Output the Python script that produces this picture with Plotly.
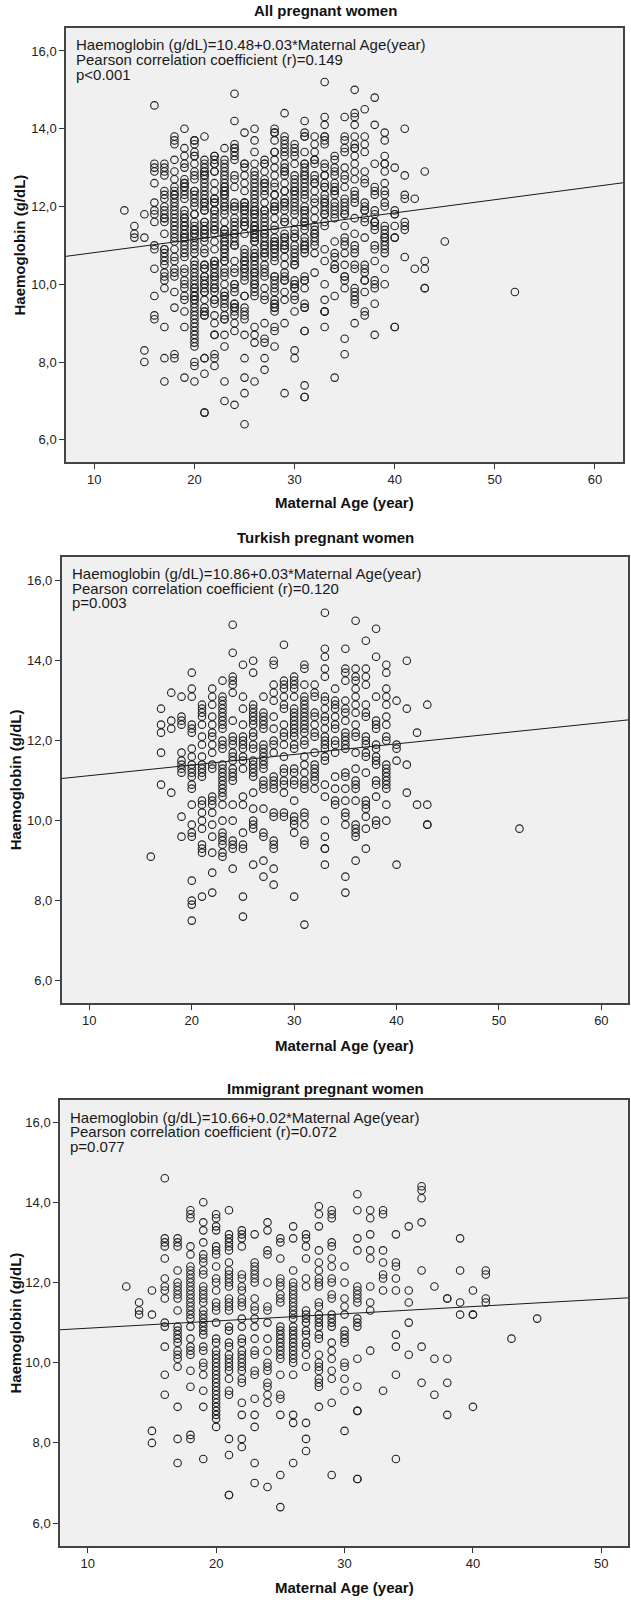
import plotly.graph_objects as go

W, H = 631, 1602

# Haemoglobin values (g/dL) read per maternal age column
turkish_hb = {
    16: [9.1],
    17: [12.8, 12.4, 12.2, 11.7, 10.9],
    18: [13.2, 12.5, 12.3, 10.7],
    19: [13.1, 12.6, 12.5, 12.4, 11.7, 11.5, 11.4, 11.3, 11.2, 10.1, 9.6],
    20: [13.7, 13.3, 13.1, 12.4, 12.3, 12.2, 11.8, 11.6, 11.4, 11.3, 11.2, 11.1, 10.9, 10.8,
         10.4, 9.9, 9.7, 9.6, 8.5, 8.0, 7.9, 7.5],
    21: [12.9, 12.8, 12.7, 12.6, 12.4, 12.1, 11.9, 11.6, 11.4, 11.3, 11.2, 11.1, 10.5, 10.4,
         10.2, 10.0, 9.8, 9.4, 9.3, 9.2, 8.1],
    22: [13.3, 13.1, 12.9, 12.6, 12.4, 12.2, 12.1, 11.9, 11.7, 11.4, 11.3, 10.6, 10.5, 10.4,
         10.2, 9.9, 9.6, 9.2, 8.7, 8.2],
    23: [13.5, 13.1, 13.0, 12.9, 12.8, 12.7, 12.6, 12.5, 12.4, 12.3, 12.0, 11.9, 11.8, 11.4,
         11.3, 11.2, 11.1, 11.0, 10.9, 10.8, 10.7, 10.6, 10.4, 10.0, 9.7, 9.6, 9.5, 9.4, 9.2, 9.1],
    24: [14.9, 14.2, 13.6, 13.5, 13.4, 13.2, 12.5, 12.1, 12.0, 11.9, 11.7, 11.6, 11.5, 11.3,
         11.2, 11.1, 11.0, 10.4, 10.0, 9.5, 9.4, 9.3, 8.8],
    25: [13.9, 13.1, 12.8, 12.4, 12.1, 12.0, 11.9, 11.8, 11.6, 11.5, 11.3, 10.6, 10.4, 9.7,
         9.4, 9.3, 8.1, 7.6],
    26: [14.0, 13.7, 12.9, 12.8, 12.7, 12.6, 12.5, 12.4, 12.2, 12.1, 11.9, 11.8, 11.5, 11.4,
         11.3, 11.2, 11.1, 10.7, 10.3, 10.0, 9.9, 9.8, 8.9],
    27: [13.1, 12.7, 12.6, 12.5, 12.4, 12.3, 11.9, 11.8, 11.7, 11.6, 11.5, 11.4, 11.3, 11.0,
         10.9, 10.8, 10.3, 9.7, 9.6, 9.0, 8.6],
    28: [14.0, 13.9, 13.4, 13.2, 13.0, 12.6, 12.3, 12.0, 11.9, 11.7, 11.1, 11.0, 10.9, 10.8,
         10.2, 10.1, 9.5, 9.4, 9.3, 8.8, 8.4],
    29: [14.4, 13.5, 13.4, 13.3, 13.1, 12.9, 12.8, 12.4, 12.2, 12.1, 11.9, 11.6, 11.3, 11.2,
         11.0, 10.9, 10.7, 10.2, 10.1],
    30: [13.6, 13.5, 13.4, 13.3, 13.1, 12.8, 12.7, 12.6, 12.5, 12.4, 12.3, 12.2, 12.1, 11.9,
         11.8, 11.3, 11.2, 11.0, 10.9, 10.5, 10.1, 10.0, 9.9, 9.7, 8.1],
    31: [13.9, 13.8, 13.4, 13.1, 13.0, 12.9, 12.8, 12.7, 12.6, 12.5, 12.4, 12.3, 12.2, 12.0,
         11.9, 11.6, 11.4, 11.2, 11.0, 10.9, 10.8, 10.2, 10.1, 9.9, 9.5, 9.4, 7.4],
    32: [13.4, 13.2, 13.1, 12.7, 12.6, 12.4, 12.2, 12.1, 11.7, 11.4, 11.3, 11.2, 11.1, 11.0, 10.8],
    33: [15.2, 14.3, 14.1, 13.8, 13.6, 13.1, 13.0, 12.8, 12.6, 12.5, 12.3, 12.1, 12.0, 11.9,
         11.8, 11.6, 11.5, 10.9, 10.6, 10.0, 9.6, 9.3, 9.3, 8.9],
    34: [13.3, 13.0, 12.9, 12.8, 12.6, 12.4, 12.3, 12.0, 11.9, 11.7, 11.1, 10.8, 10.5, 10.4],
    35: [14.3, 13.8, 13.7, 13.5, 13.0, 12.8, 12.7, 12.5, 12.2, 12.1, 12.0, 11.9, 11.8, 11.2,
         11.1, 10.8, 10.5, 10.2, 10.1, 9.9, 8.6, 8.2],
    36: [15.0, 13.8, 13.6, 13.5, 13.3, 13.1, 12.9, 12.7, 12.4, 12.2, 12.1, 11.7, 11.3, 11.0,
         10.9, 10.8, 10.5, 9.9, 9.8, 9.7, 9.6, 9.0],
    37: [14.5, 13.8, 13.6, 13.4, 12.9, 12.7, 12.6, 12.1, 12.0, 11.9, 11.7, 11.6, 11.2, 10.5,
         10.4, 10.3, 10.1, 9.8, 9.3],
    38: [14.8, 14.1, 13.1, 12.5, 12.4, 12.3, 11.9, 11.8, 11.6, 11.5, 11.4, 11.0, 10.9, 10.6,
         10.0, 9.9],
    39: [13.9, 13.7, 13.3, 13.1, 12.9, 12.6, 12.4, 12.1, 12.0, 11.4, 11.3, 11.2, 11.1, 11.0,
         10.9, 10.8, 10.4, 10.0],
    40: [13.0, 11.9, 11.8, 11.5, 8.9],
    41: [14.0, 12.8, 11.4, 10.7],
    42: [12.2, 10.4],
    43: [12.9, 10.4, 9.9, 9.9],
    52: [9.8],
}

immigrant_hb = {
    13: [11.9],
    14: [11.5, 11.3, 11.2],
    15: [11.8, 11.2, 8.3, 8.0],
    16: [14.6, 13.1, 13.0, 12.9, 12.6, 12.1, 11.9, 11.8, 11.6, 11.0, 10.9, 10.4, 9.7, 9.2],
    17: [13.1, 13.0, 12.9, 12.3, 12.0, 11.9, 11.8, 11.7, 11.6, 11.3, 10.9, 10.8, 10.7, 10.6,
         10.5, 10.3, 10.2, 10.1, 9.9, 8.9, 8.1, 7.5],
    18: [13.8, 13.7, 13.6, 12.9, 12.7, 12.4, 12.3, 12.2, 12.1, 12.0, 11.9, 11.8, 11.7, 11.6,
         11.5, 11.4, 11.3, 11.2, 11.1, 10.9, 10.6, 10.4, 10.3, 10.2, 9.8, 9.4, 8.2, 8.1],
    19: [14.0, 13.5, 13.3, 13.0, 12.7, 12.6, 12.5, 12.3, 12.2, 11.9, 11.8, 11.7, 11.6, 11.5,
         11.3, 11.2, 11.1, 11.0, 10.9, 10.8, 10.7, 10.4, 10.3, 10.0, 9.9, 9.7, 9.3, 8.9, 7.6],
    20: [13.7, 13.6, 13.4, 13.3, 12.9, 12.8, 12.7, 12.4, 12.1, 12.0, 11.8, 11.5, 11.4, 11.3,
         11.0, 10.6, 10.5, 10.3, 10.2, 10.1, 10.0, 9.9, 9.8, 9.7, 9.6, 9.5, 9.4, 9.3, 9.2,
         9.1, 9.0, 8.9, 8.8, 8.7, 8.6, 8.4],
    21: [13.8, 13.2, 13.1, 13.0, 12.9, 12.8, 12.5, 12.3, 12.2, 12.1, 12.0, 11.9, 11.6, 11.5,
         11.4, 11.3, 10.9, 10.8, 10.5, 10.4, 10.2, 10.1, 10.0, 9.9, 9.8, 9.6, 9.3, 9.2, 8.1,
         7.7, 6.7, 6.7],
    22: [13.3, 13.2, 13.1, 12.9, 12.2, 12.1, 11.9, 11.8, 11.6, 11.5, 11.4, 11.1, 10.9, 10.6,
         10.5, 10.3, 10.2, 10.1, 10.0, 9.9, 9.8, 9.6, 9.5, 9.0, 8.7, 8.1, 7.9],
    23: [13.2, 12.5, 12.4, 12.3, 12.2, 12.1, 12.0, 11.6, 11.4, 11.3, 11.1, 10.9, 10.6, 10.3,
         10.2, 9.8, 9.7, 9.1, 8.7, 8.4, 7.5, 7.0],
    24: [13.5, 13.3, 12.8, 12.7, 12.0, 11.4, 11.3, 11.0, 10.6, 10.3, 10.0, 9.9, 9.8, 9.5,
         9.4, 9.2, 9.0, 6.9],
    25: [13.1, 13.0, 12.6, 12.1, 12.0, 11.9, 11.7, 11.6, 11.5, 10.9, 10.8, 10.7, 10.6, 10.5,
         10.4, 10.3, 10.2, 10.1, 9.7, 9.2, 9.1, 8.7, 7.2, 6.4],
    26: [13.4, 13.1, 12.3, 12.0, 11.9, 11.8, 11.7, 11.6, 11.5, 11.4, 11.3, 11.2, 11.1, 10.9,
         10.8, 10.7, 10.6, 10.5, 10.4, 10.3, 10.2, 10.1, 10.0, 9.7, 8.7, 8.5, 7.5],
    27: [13.2, 13.1, 12.9, 12.6, 12.1, 11.9, 11.3, 11.2, 11.1, 11.0, 10.8, 10.7, 10.5, 10.4,
         10.2, 9.9, 8.5, 8.1, 7.8],
    28: [13.9, 13.7, 13.4, 12.8, 12.5, 12.3, 12.1, 12.0, 11.9, 11.5, 11.4, 11.2, 11.1, 11.0,
         10.9, 10.7, 10.6, 10.2, 10.0, 9.9, 9.8, 9.6, 9.5, 9.4, 8.9],
    29: [13.8, 13.7, 13.6, 13.0, 12.9, 12.6, 12.4, 12.1, 12.0, 11.7, 11.6, 11.2, 11.1, 11.0,
         10.9, 10.5, 10.3, 10.1, 9.8, 9.6, 9.0, 7.2],
    30: [12.4, 12.0, 11.6, 11.4, 11.2, 10.8, 10.7, 10.6, 10.5, 10.0, 9.9, 9.6, 9.3, 8.3],
    31: [14.2, 13.8, 13.1, 12.8, 11.9, 11.8, 11.7, 11.6, 11.5, 11.1, 11.0, 10.9, 10.1, 9.4,
         8.8, 8.8, 7.1, 7.1],
    32: [13.8, 13.6, 13.2, 12.8, 12.6, 11.9, 11.5, 11.3, 10.3],
    33: [13.8, 13.7, 12.8, 12.5, 12.2, 12.1, 11.8, 9.3],
    34: [13.2, 12.5, 12.4, 12.1, 11.8, 10.7, 10.4, 9.7, 7.6],
    35: [13.4, 11.8, 11.5, 11.0, 10.2],
    36: [14.4, 14.3, 14.1, 13.5, 12.3, 10.4, 9.5],
    37: [11.9, 10.1, 9.2],
    38: [11.6, 11.6, 10.1, 9.5, 8.7],
    39: [13.1, 12.3, 11.5, 11.2],
    40: [11.8, 11.2, 11.2, 8.9],
    41: [12.3, 12.2, 11.6, 11.5],
    43: [10.6],
    45: [11.1],
}

panel_titles = ["All pregnant women", "Turkish pregnant women", "Immigrant pregnant women"]
equations = ["Haemoglobin (g/dL)=10.48+0.03*Maternal Age(year)",
             "Haemoglobin (g/dL)=10.86+0.03*Maternal Age(year)",
             "Haemoglobin (g/dL)=10.66+0.02*Maternal Age(year)"]
correlations = ["Pearson correlation coefficient (r)=0.149",
                "Pearson correlation coefficient (r)=0.120",
                "Pearson correlation coefficient (r)=0.072"]
p_values = ["p<0.001", "p=0.003", "p=0.077"]
# fitted line as drawn
fit_intercept = [10.475, 10.86, 10.68]
fit_slope = [0.034, 0.0265, 0.018]

hb_ticks = [6, 8, 10, 12, 14, 16]
hb_tick_labels = ["6,0", "8,0", "10,0", "12,0", "14,0", "16,0"]
age_ticks = [[10, 20, 30, 40, 50, 60], [10, 20, 30, 40, 50, 60], [10, 20, 30, 40, 50]]


def flatten(cols):
    xs, ys = [], []
    for age, vals in cols.items():
        for v in vals:
            xs.append(age)
            ys.append(v)
    return xs, ys


tx, ty = flatten(turkish_hb)
ix, iy = flatten(immigrant_hb)
panel_data = [(tx + ix, ty + iy), (tx, ty), (ix, iy)]

# plot boxes in pixels: left, right, top, bottom
boxes = [(66, 623, 28, 462), (61.7, 628, 556.7, 1003), (60, 628.3, 1100, 1546)]
x_ranges = [[7.17, 62.8], [7.3, 62.6], [7.84, 52.1]]
y_ranges = [[5.43, 16.59], [5.44, 16.6], [5.43, 16.55]]
title_y = [10, 538, 1088]
xtitle_y = [502, 1045, 1587]
ytitle_x = [18.5, 15.5, 14.5]

FONT = "Liberation Sans, Arial, sans-serif"


def px(x):
    return x / W


def py(y):
    return 1 - y / H


fig = go.Figure()
annotations = []
layout = {}

for i in range(3):
    n = "" if i == 0 else str(i + 1)
    xa, ya = "x" + n, "y" + n
    l, r, t, b = boxes[i]
    xs, ys = panel_data[i]

    fig.add_trace(go.Scatter(
        x=xs, y=ys, mode="markers", xaxis=xa, yaxis=ya,
        marker=dict(symbol="circle-open", size=7.5, color="#222", line=dict(width=1.1)),
        showlegend=False, hoverinfo="x+y"))

    x0, x1 = x_ranges[i]
    fig.add_trace(go.Scatter(
        x=[x0, x1],
        y=[fit_intercept[i] + fit_slope[i] * x0, fit_intercept[i] + fit_slope[i] * x1],
        mode="lines", xaxis=xa, yaxis=ya,
        line=dict(color="#1a1a1a", width=1), showlegend=False, hoverinfo="skip"))

    layout["xaxis" + n] = dict(
        domain=[px(l), px(r)], range=x_ranges[i], anchor=ya,
        tickvals=age_ticks[i], ticks="outside", ticklen=5, tickcolor="#333",
        tickfont=dict(family=FONT, size=13, color="#222"),
        showline=True, mirror=True, linecolor="#444", linewidth=1.5,
        showgrid=False, zeroline=False)
    layout["yaxis" + n] = dict(
        domain=[py(b), py(t)], range=y_ranges[i], anchor=xa,
        tickvals=hb_ticks, ticktext=hb_tick_labels, ticks="outside", ticklen=5,
        tickcolor="#333", tickfont=dict(family=FONT, size=13, color="#222"),
        showline=True, mirror=True, linecolor="#444", linewidth=1.5,
        showgrid=False, zeroline=False)

    annotations.append(dict(
        text="<b>" + panel_titles[i] + "</b>", x=px(325.5), y=py(title_y[i]),
        xref="paper", yref="paper", showarrow=False, xanchor="center", yanchor="middle",
        font=dict(family=FONT, size=15, color="#111")))
    annotations.append(dict(
        text="<b>Maternal Age (year)</b>", x=px((l + r) / 2), y=py(xtitle_y[i]),
        xref="paper", yref="paper", showarrow=False, xanchor="center", yanchor="middle",
        font=dict(family=FONT, size=15, color="#111")))
    annotations.append(dict(
        text="<b>Haemoglobin (g/dL)</b>", x=px(ytitle_x[i]), y=py((t + b) / 2),
        xref="paper", yref="paper", showarrow=False, textangle=-90,
        xanchor="center", yanchor="middle",
        font=dict(family=FONT, size=15, color="#111")))
    for k, line in enumerate([equations[i], correlations[i], p_values[i]]):
        annotations.append(dict(
            text=line, x=px(l + 8), y=py(t + 17 + 14.5 * k),
            xref="paper", yref="paper", showarrow=False, xanchor="left", yanchor="middle",
            font=dict(family=FONT, size=15, color="#1a1a1a")))

fig.update_layout(
    width=W, height=H, margin=dict(l=0, r=0, t=0, b=0),
    paper_bgcolor="white", plot_bgcolor="#f0f0f0",
    annotations=annotations, **layout)

# page has a default body margin; drop it so the figure fills the window
fig.write_html("out.html", config={"displayModeBar": False},
               post_script="document.body.style.margin='0';document.body.style.overflow='hidden';")
